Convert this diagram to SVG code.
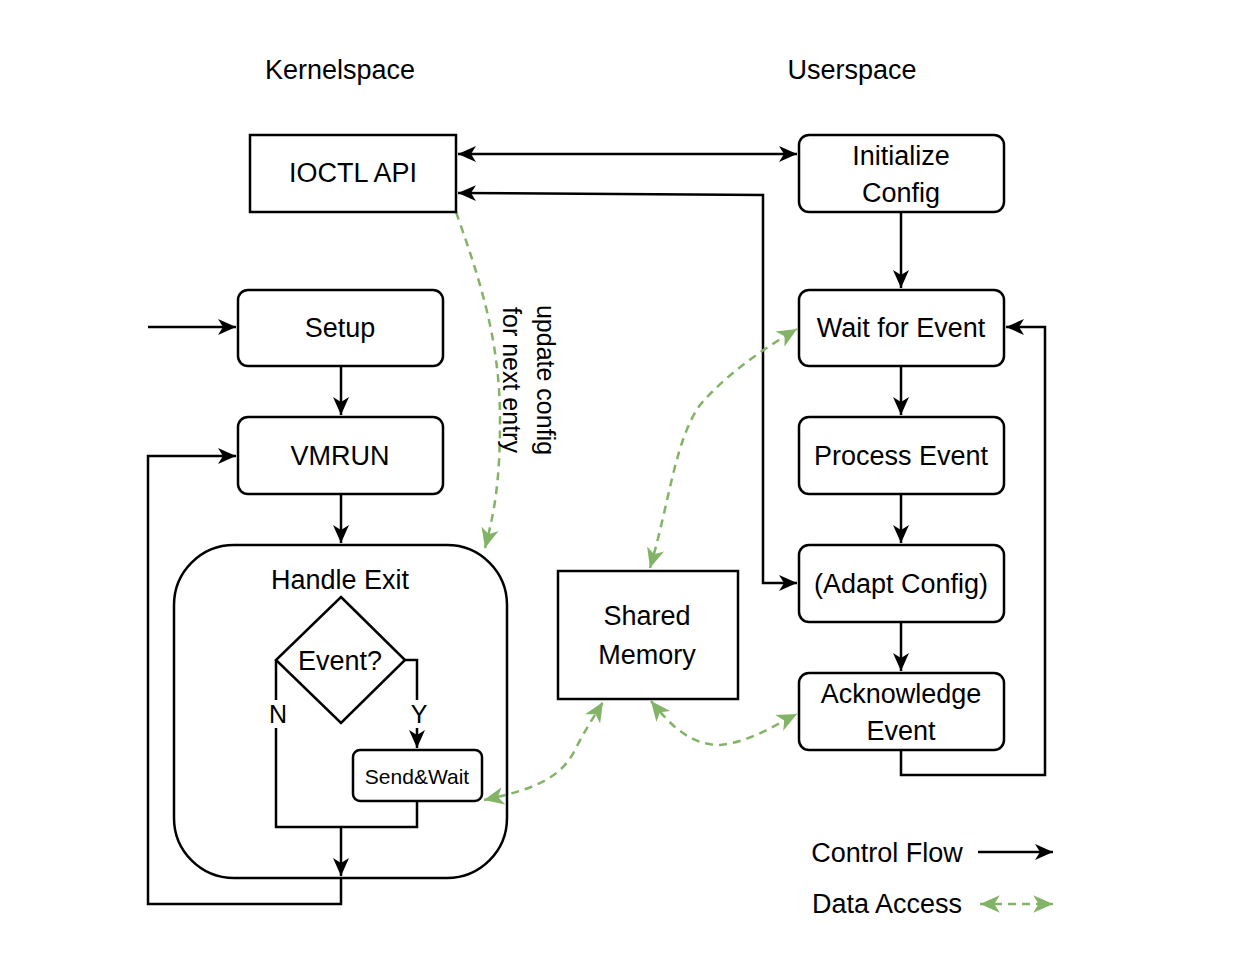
<svg xmlns="http://www.w3.org/2000/svg" width="1233" height="960" viewBox="0 0 1233 960">
<style>
text{font-family:"Liberation Sans",Arial,sans-serif;font-size:27px;fill:#000;text-anchor:middle}
.n{fill:#fff;stroke:#000;stroke-width:2.5}
.c{fill:none;stroke:#000;stroke-width:2.5}
.d{fill:none;stroke:#82b366;stroke-width:2.5;stroke-dasharray:8 6}
</style>
<defs>
<marker id="a" viewBox="0 0 20 20" refX="18" refY="10" markerWidth="20" markerHeight="20" markerUnits="userSpaceOnUse" orient="auto-start-reverse"><path d="M0,2 L18,10 L0,18 L5,10 Z" fill="#000"/></marker>
<marker id="g" viewBox="0 0 20 20" refX="18" refY="10" markerWidth="22" markerHeight="22" markerUnits="userSpaceOnUse" orient="auto-start-reverse"><path d="M0,2 L18,10 L0,18 L5,10 Z" fill="#82b366"/></marker>
</defs>
<rect width="1233" height="960" fill="#fff"/>
<text x="340" y="79">Kernelspace</text>
<text x="852" y="79">Userspace</text>
<g id="connectors">
<path class="c" d="M458,154 H797" marker-start="url(#a)" marker-end="url(#a)"/>
<path class="c" d="M458,193 L763,195 V583 H797" marker-start="url(#a)" marker-end="url(#a)"/>
<path class="c" d="M901,212 V288" marker-end="url(#a)"/>
<path class="c" d="M901,366 V415" marker-end="url(#a)"/>
<path class="c" d="M901,494 V543" marker-end="url(#a)"/>
<path class="c" d="M901,622 V671" marker-end="url(#a)"/>
<path class="c" d="M901,750 V775 H1045 V327 H1006" marker-end="url(#a)"/>
<path class="c" d="M148,327 H236" marker-end="url(#a)"/>
<path class="c" d="M341,366 V415" marker-end="url(#a)"/>
<path class="c" d="M341,494 V543" marker-end="url(#a)"/>
<path class="c" d="M405,660 H417 V748" marker-end="url(#a)"/>
<path class="c" d="M276,660 V827 H417 V801"/>
<path class="c" d="M341,827 V876" marker-end="url(#a)"/>
<path class="c" d="M341,878 V904 H148 V456 H236" marker-end="url(#a)"/>
<path class="d" d="M456,212 C480,280 500,340 500,420 C500,480 495,510 485,548" marker-end="url(#g)"/>
<path class="d" d="M650,568 C670,500 675,440 700,405 C730,370 770,345 797,329" marker-start="url(#g)" marker-end="url(#g)"/>
<path class="d" d="M484,800 C530,790 560,780 575,750 C585,730 595,715 603,702" marker-start="url(#g)" marker-end="url(#g)"/>
<path class="d" d="M651,701 C670,725 690,745 720,745 C750,742 775,725 797,714" marker-start="url(#g)" marker-end="url(#g)"/>
<path class="c" d="M978,852 H1053" marker-end="url(#a)"/>
<path class="d" d="M980,904 H1053" marker-start="url(#g)" marker-end="url(#g)"/>
</g>
<text transform="translate(537,380) rotate(90)" text-anchor="middle" style="font-size:25px">update config</text>
<text transform="translate(503,380) rotate(90)" text-anchor="middle" style="font-size:25px">for next entry</text>
<g id="ioctl"><rect class="n" x="250" y="135" width="206" height="77"/><text x="353" y="182">IOCTL API</text></g>
<g id="init"><rect class="n" x="799" y="135" width="205" height="77" rx="10"/><text x="901" y="165">Initialize</text><text x="901" y="202">Config</text></g>
<g id="wait"><rect class="n" x="799" y="290" width="205" height="76" rx="10"/><text x="901" y="337">Wait for Event</text></g>
<g id="process"><rect class="n" x="799" y="417" width="205" height="77" rx="10"/><text x="901" y="465">Process Event</text></g>
<g id="adapt"><rect class="n" x="799" y="545" width="205" height="77" rx="10"/><text x="901" y="593">(Adapt Config)</text></g>
<g id="ack"><rect class="n" x="799" y="673" width="205" height="77" rx="10"/><text x="901" y="703">Acknowledge</text><text x="901" y="740">Event</text></g>
<g id="setup"><rect class="n" x="238" y="290" width="205" height="76" rx="10"/><text x="340" y="337">Setup</text></g>
<g id="vmrun"><rect class="n" x="238" y="417" width="205" height="77" rx="10"/><text x="340" y="465">VMRUN</text></g>
<g id="handle"><rect class="c" x="174" y="545" width="333" height="333" rx="60"/><text x="340" y="589">Handle Exit</text></g>
<g id="event"><path class="n" d="M341,597 L405,660 L341,723 L276,660 Z"/><text x="340" y="670">Event?</text></g>
<rect x="268" y="700" width="20" height="28" fill="#fff"/><text x="278" y="723" style="font-size:25px">N</text>
<rect x="409" y="700" width="20" height="28" fill="#fff"/><text x="419" y="723" style="font-size:25px">Y</text>
<g id="sendwait"><rect class="n" x="353" y="750" width="129" height="51" rx="7"/><text x="417" y="784" style="font-size:21px">Send&amp;Wait</text></g>
<g id="shm"><rect class="n" x="558" y="571" width="180" height="128"/><text x="647" y="625">Shared</text><text x="647" y="664">Memory</text></g>
<text x="887" y="862">Control Flow</text>
<text x="887" y="913">Data Access</text>
</svg>
